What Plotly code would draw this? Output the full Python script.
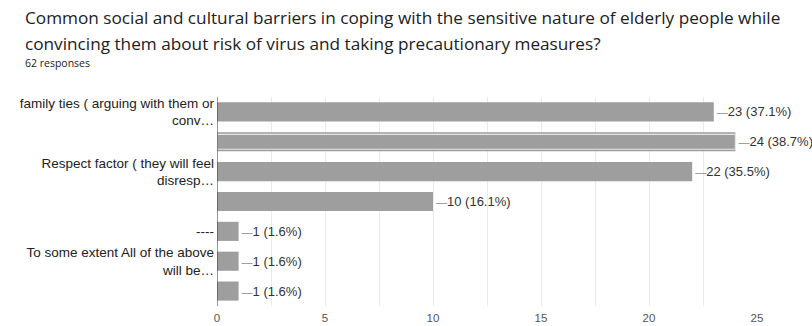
import plotly.graph_objects as go

labels = ["family ties ( arguing with them or<br>conv…", "", "Respect factor ( they will feel<br>disresp…", "", "----",
          "To some extent All of the above<br>will be…", ""]
counts = [23, 24, 22, 10, 1, 1, 1]
percents = ["37.1%", "38.7%", "35.5%", "16.1%", "1.6%", "1.6%", "1.6%"]
x_ticks = [0, 5, 10, 15, 20, 25]
total_responses = 62

pos = list(range(len(counts)))
texts = ["<span style='color:#8a8a8a;font-size:11px'>—</span>%d (%s)" % (c, p) for c, p in zip(counts, percents)]

W, H = 812, 326
L, R, T, B = 217, 55, 97, 20

fig = go.Figure()
fig.add_trace(go.Bar(
    y=pos, x=counts, orientation="h", width=0.64,
    marker=dict(color="#9e9e9e", line=dict(width=0)),
    text=texts, textposition="outside", cliponaxis=False,
    textfont=dict(family="Liberation Sans, Arial, sans-serif", size=13, color="#333333"),
    hoverinfo="skip", showlegend=False,
))
# highlighted (hovered) bar
hl = [1]
fig.add_trace(go.Bar(
    y=[pos[i] for i in hl], x=[counts[i] for i in hl], orientation="h", width=0.5,
    marker=dict(color="#9e9e9e", line=dict(width=1.2, color="#e6e6e6")),
    hoverinfo="skip", showlegend=False,
))

fig.update_layout(
    barmode="overlay",
    width=W, height=H,
    margin=dict(l=L, r=R, t=T, b=B),
    plot_bgcolor="white", paper_bgcolor="white",
    font=dict(family="Liberation Sans, Arial, sans-serif", size=12, color="#222222"),
    xaxis=dict(range=[0, 25], tickvals=x_ticks, showgrid=True, automargin=False,
               gridcolor="#ebebeb", gridwidth=1, zeroline=False,
               showline=False, ticks="", ticklabelstandoff=3,
               tickfont=dict(size=11.5, color="#555555"),
               minor=dict(dtick=2.5, showgrid=True, gridcolor="#ebebeb")),
    yaxis=dict(range=[6.5, -0.5], tickvals=pos, ticktext=labels, showgrid=False,
               automargin=False,
               zeroline=False, showline=False, ticks="", ticklabelstandoff=2,
               tickfont=dict(size=13.5, color="#222222")),
    shapes=[dict(type="line", xref="x", yref="paper", x0=0, x1=0, y0=0, y1=1,
                 line=dict(color="#333333", width=1))],
)

title_lines = [
    ("Common social and cultural barriers in coping with the sensitive nature of elderly people while", 17.2, 18),
    ("convincing them about risk of virus and taking precautionary measures?", 17.2, 43),
    ("%d responses" % total_responses, 10.5, 63),
]
plot_h = H - T - B
plot_w = W - L - R
for txt, fs, ypix in title_lines:
    fig.add_annotation(
        text=txt, xref="paper", yref="paper",
        x=(23 - L) / plot_w, y=(H - B - ypix) / plot_h,
        xanchor="left", yanchor="middle", showarrow=False,
        font=dict(family="Open Sans, Roboto, sans-serif", size=fs, color="#202124"),
    )

fig.write_html("out.html", config={"displayModeBar": False},
               post_script="document.body.style.margin='0';")
